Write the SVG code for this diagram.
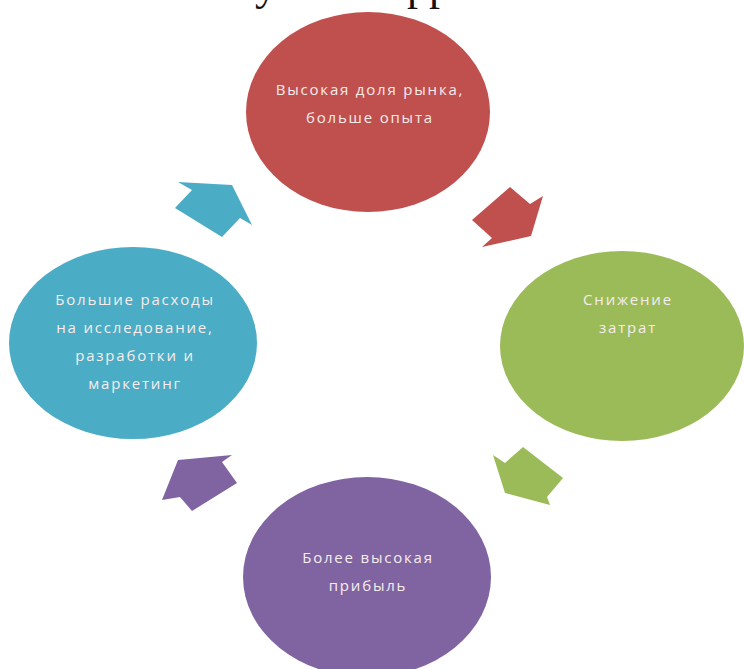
<svg xmlns="http://www.w3.org/2000/svg" width="744" height="669" viewBox="0 0 744 669">
<style>
.lbl{font-family:"Open Sans","Noto Sans","DejaVu Sans",sans-serif;font-size:15px;fill:#f7ecec;text-anchor:middle;letter-spacing:1.8px}
.ttl{font-family:"Liberation Serif","Times New Roman",serif;font-size:44px;fill:#111}
</style>
<rect width="744" height="669" fill="#ffffff"/>
<text class="ttl" x="255" y="0">у</text>
<text class="ttl" x="407" y="0">рр</text>
<g id="connectors">
<polygon fill="#c0504d" points="510,187 530,204 543,196 531,236 482,247 492,238 472,220"/>
<polygon fill="#9bbb59" points="493,455 505,463 523,447 563,478 547,497 550,505 505,493"/>
<polygon fill="#8064a2" points="178,460 232,455 222,462 237,483 192,511 180,497 162,500"/>
<polygon fill="#4bacc6" points="178,182 232,185 252,225 240,218 222,237 175,208 192,190"/>
</g>
<g id="node-red">
<ellipse cx="368" cy="112" rx="122" ry="100" fill="#c0504d"/>
<text class="lbl" x="370" y="95">Высокая доля рынка,</text>
<text class="lbl" x="370" y="123">больше опыта</text>
</g>
<g id="node-green">
<ellipse cx="622" cy="346" rx="122" ry="95" fill="#9bbb59"/>
<text class="lbl" x="628" y="305">Снижение</text>
<text class="lbl" x="628" y="333">затрат</text>
</g>
<g id="node-purple">
<ellipse cx="367" cy="577" rx="124" ry="100" fill="#8064a2"/>
<text class="lbl" x="368" y="563">Более высокая</text>
<text class="lbl" x="368" y="591">прибыль</text>
</g>
<g id="node-blue">
<ellipse cx="133" cy="343" rx="124" ry="96" fill="#4bacc6"/>
<text class="lbl" x="135" y="305">Большие расходы</text>
<text class="lbl" x="135" y="333">на исследование,</text>
<text class="lbl" x="135" y="361">разработки и</text>
<text class="lbl" x="135" y="389">маркетинг</text>
</g>
</svg>
